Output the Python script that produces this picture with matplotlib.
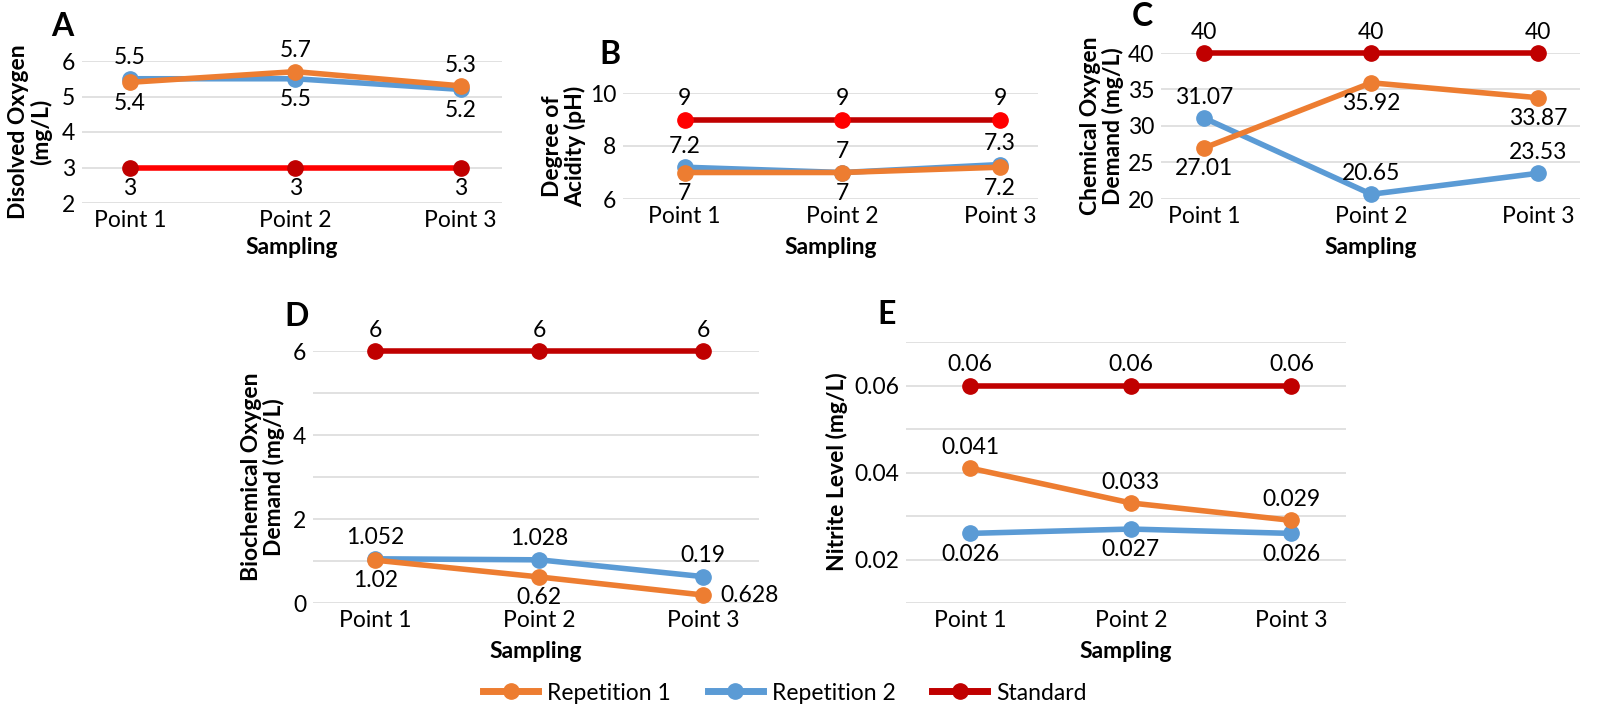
import matplotlib.pyplot as plt
from matplotlib.ticker import MultipleLocator
from matplotlib.lines import Line2D

plt.rcParams['font.family'] = ['Lato', 'DejaVu Sans']

W, H = 1600, 714

points = ['Point 1', 'Point 2', 'Point 3']

# A - dissolved oxygen
do_rep1 = [5.4, 5.7, 5.3]
do_rep2 = [5.5, 5.5, 5.2]
do_std = [3, 3, 3]

# B - pH
ph_rep1 = [7.0, 7.0, 7.2]
ph_rep2 = [7.2, 7.0, 7.3]
ph_std = [9, 9, 9]

# C - COD
cod_rep1 = [27.01, 35.92, 33.87]
cod_rep2 = [31.07, 20.65, 23.53]
cod_std = [40, 40, 40]

# D - BOD (labels at point 3 are swapped in the source figure)
bod_rep1 = [1.02, 0.62, 0.19]
bod_rep2 = [1.052, 1.028, 0.628]
bod_std = [6, 6, 6]
bod_rep1_labels = ['1.02', '0.62', '0.628']
bod_rep2_labels = ['1.052', '1.028', '0.19']

# E - nitrite
no2_rep1 = [0.041, 0.033, 0.029]
no2_rep2 = [0.026, 0.027, 0.026]
no2_std = [0.06, 0.06, 0.06]

ORANGE = '#ED7D31'
BLUE = '#5B9BD5'
DARKRED = '#C00000'
RED = '#FF0000'
GRID = '#D9D9D9'
FS = 16.5
LW, MS = 4.0, 11


def px_axes(fig, left, right, top, bottom):
    return fig.add_axes([left / W, 1 - bottom / H, (right - left) / W, (bottom - top) / H])


def label_points(ax, xs, ys, texts, where, color='black'):
    for x, y, t, w in zip(xs, ys, texts, where):
        if w == 'above':
            off, ha = (0, 15), 'center'
        elif w == 'below':
            off, ha = (0, -15), 'center'
        else:
            off, ha = (12, 0), 'left'
        ax.annotate(t, (x, y), xytext=off, textcoords='offset points',
                    ha=ha, va='center', fontsize=FS, color=color,
                    annotation_clip=False, zorder=10)


def draw_panel(ax, rep1, rep2, std, ylim, yticks, step, xlim,
               where1, where2, where_std, std_line=DARKRED, std_marker=DARKRED,
               labels1=None, labels2=None):
    xs = range(len(points))
    ax.plot(xs, std, color=std_line, lw=LW, marker='o', ms=MS,
            mfc=std_marker, mec=std_marker, zorder=3, clip_on=False)
    ax.plot(xs, rep2, color=BLUE, lw=LW, marker='o', ms=MS, zorder=4, clip_on=False)
    ax.plot(xs, rep1, color=ORANGE, lw=LW, marker='o', ms=MS, zorder=5, clip_on=False)

    if labels1 is None:
        labels1 = [f'{v:g}' for v in rep1]
    if labels2 is None:
        labels2 = [f'{v:g}' for v in rep2]
    label_points(ax, xs, rep1, labels1, where1)
    label_points(ax, xs, rep2, labels2, where2)
    label_points(ax, xs, std, [f'{v:g}' for v in std], where_std)

    ax.set_xlim(*xlim)
    ax.set_ylim(*ylim)
    ax.set_xticks(list(xs), labels=points)
    ax.set_yticks(yticks, labels=[f'{v:g}' for v in yticks])
    ax.yaxis.set_minor_locator(MultipleLocator(step))
    ax.grid(axis='y', which='both', color=GRID, lw=1.1, zorder=0)
    ax.set_axisbelow(True)
    ax.tick_params(which='both', length=0, labelsize=FS, pad=5)
    for s in ax.spines.values():
        s.set_visible(False)


fig = plt.figure(figsize=(W / 100, H / 100), dpi=100)

axA = px_axes(fig, 82, 502, 61, 203)
draw_panel(axA, do_rep1, do_rep2, do_std, (2, 6), [2, 3, 4, 5, 6], 1, (-0.29, 2.25),
           ['below', 'above', 'above'], ['above', 'below', 'below'], ['below'] * 3,
           std_line=RED, std_marker=DARKRED)

axB = px_axes(fig, 623, 1038, 93, 199)
draw_panel(axB, ph_rep1, ph_rep2, ph_std, (6, 10), [6, 8, 10], 2, (-0.39, 2.24),
           ['below'] * 3, ['above'] * 3, ['above'] * 3,
           std_line=DARKRED, std_marker=RED)

axC = px_axes(fig, 1161, 1580, 53, 199)
draw_panel(axC, cod_rep1, cod_rep2, cod_std, (20, 40), [20, 25, 30, 35, 40], 5, (-0.26, 2.25),
           ['below'] * 3, ['above'] * 3, ['above'] * 3)

axD = px_axes(fig, 313, 759, 351, 603)
draw_panel(axD, bod_rep1, bod_rep2, bod_std, (0, 6), [0, 2, 4, 6], 1, (-0.38, 2.34),
           ['below', 'below', 'right'], ['above'] * 3, ['above'] * 3,
           labels1=bod_rep1_labels, labels2=bod_rep2_labels)

axE = px_axes(fig, 906, 1346, 342, 603)
draw_panel(axE, no2_rep1, no2_rep2, no2_std, (0.01, 0.07), [0.02, 0.04, 0.06], 0.01, (-0.40, 2.34),
           ['above'] * 3, ['below'] * 3, ['above'] * 3)

# axis titles
ylabels = [
    (30, 132, 'Disolved Oxygen\n(mg/L)'),
    (564, 146, 'Degree of\nAcidity (pH)'),
    (1102, 126, 'Chemical Oxygen\nDemand (mg/L)'),
    (263, 477, 'Biochemical Oxygen\nDemand (mg/L)'),
    (837, 472, 'Nitrite Level (mg/L)'),
]
for x, y, t in ylabels:
    fig.text(x / W, 1 - y / H, t, rotation=90, ha='center', va='center',
             fontsize=FS, fontweight='bold', linespacing=1.05)

for ax, y in [(axA, 248), (axB, 248), (axC, 248), (axD, 652), (axE, 652)]:
    p = ax.get_position()
    fig.text(p.x0 + p.width / 2, 1 - y / H, 'Sampling', ha='center', va='center',
             fontsize=FS, fontweight='bold')

# panel letters
for x, y, t in [(62, 26, 'A'), (610, 54, 'B'), (1142, 16, 'C'), (297, 317, 'D'), (887, 314, 'E')]:
    fig.text(x / W, 1 - y / H, t, ha='center', va='center', fontsize=23, fontweight='bold')

handles = [
    Line2D([], [], color=ORANGE, lw=LW + 1, marker='o', ms=MS),
    Line2D([], [], color=BLUE, lw=LW + 1, marker='o', ms=MS),
    Line2D([], [], color=DARKRED, lw=LW + 1, marker='o', ms=MS),
]
fig.legend(handles, ['Repetition 1', 'Repetition 2', 'Standard'], loc='center',
           bbox_to_anchor=(785 / W, 1 - 693 / H), ncol=3, frameon=False,
           fontsize=FS, handlelength=2.4, columnspacing=1.6, handletextpad=0.4)

fig.savefig('out.png', dpi=100)
